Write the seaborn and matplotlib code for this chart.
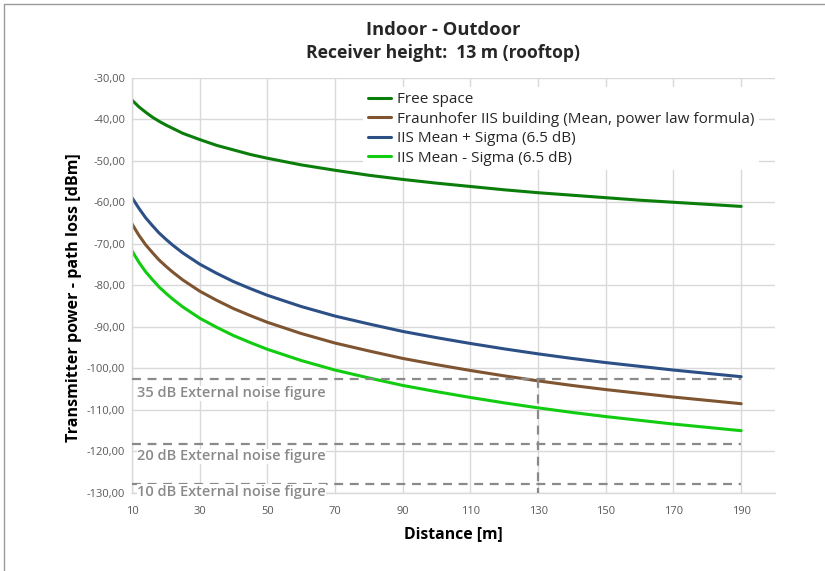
import matplotlib
matplotlib.use("Agg")
import matplotlib.pyplot as plt
import seaborn as sns
import pandas as pd
from matplotlib.lines import Line2D

# ---- data ----
distance = [10, 12, 14, 16, 18, 20, 22, 25, 30, 35, 40, 45, 50, 60, 70, 80, 90, 100, 110, 120, 130,
            140, 150, 160, 170, 180, 190]
free_space = [-35.4, -37.0, -38.3, -39.5, -40.5, -41.4, -42.2, -43.4, -44.9, -46.3, -47.4, -48.5, -49.4,
              -51.0, -52.3, -53.5, -54.5, -55.4, -56.2, -57.0, -57.7, -58.3, -58.9, -59.5, -60.0, -60.5, -61.0]
iis_mean = [-65.2, -67.9, -70.2, -72.1, -73.9, -75.4, -76.8, -78.7, -81.4, -83.6, -85.6, -87.3, -88.9,
            -91.6, -93.9, -95.8, -97.6, -99.1, -100.5, -101.8, -103.0, -104.1, -105.1, -106.0, -106.9,
            -107.7, -108.5]
iis_plus = [-58.9, -61.4, -63.7, -65.6, -67.4, -68.9, -70.3, -72.2, -74.9, -77.1, -79.1, -80.8, -82.4,
            -85.1, -87.4, -89.3, -91.1, -92.6, -94.0, -95.3, -96.5, -97.6, -98.6, -99.5, -100.4,
            -101.2, -102.0]
iis_minus = [-71.7, -74.4, -76.7, -78.6, -80.4, -81.9, -83.3, -85.2, -87.9, -90.1, -92.1, -93.8, -95.4,
             -98.1, -100.4, -102.3, -104.1, -105.6, -107.0, -108.3, -109.5, -110.6, -111.6, -112.5,
             -113.4, -114.2, -115.0]
series_names = ["Free space", "Fraunhofer IIS building (Mean, power law formula)",
                "IIS Mean + Sigma (6.5 dB)", "IIS Mean - Sigma (6.5 dB)"]
noise_levels = [-102.6, -118.2, -127.8]
noise_labels = ["35 dB External noise figure", "20 dB External noise figure", "10 dB External noise figure"]
noise_label_y = [-106.0, -121.2, -129.7]
noise_x = [10, 190]
marker_distance = 130
x_ticks = [10, 30, 50, 70, 90, 110, 130, 150, 170, 190]
y_ticks = [-30, -40, -50, -60, -70, -80, -90, -100, -110, -120, -130]

colors = ["#0b7d0b", "#7f5531", "#2c4f86", "#12cc12"]

sns.set_theme(style="white")
plt.rcParams['font.family'] = ['Open Sans', 'DejaVu Sans']

df = pd.DataFrame({"Distance": distance * 4,
                   "Value": free_space + iis_mean + iis_plus + iis_minus,
                   "Series": sum([[n] * len(distance) for n in series_names], [])})

fig = plt.figure(figsize=(8.25, 5.71), dpi=100)
ax = fig.add_axes([0.16, 0.1366, 0.7794, 0.7274])

sns.lineplot(data=df, x="Distance", y="Value", hue="Series", hue_order=series_names,
             palette=colors, linewidth=2.2, ax=ax, legend=False, sort=True)

# noise figure lines
for lvl, lab, ly in zip(noise_levels, noise_labels, noise_label_y):
    ax.plot(noise_x, [lvl, lvl], color="#8a8a8a", linestyle=(0, (4, 3)), linewidth=1.6, zorder=3)
    ax.text(11.5, ly, lab, color="#8a8a8a", fontsize=10.5, fontweight="semibold",
            va="center", ha="left", zorder=4,
            bbox=dict(facecolor="white", edgecolor="none", pad=0.3))
ax.plot([marker_distance, marker_distance], [noise_levels[0], -130], color="#8a8a8a",
        linestyle=(0, (4, 3)), linewidth=1.6, zorder=3)

ax.set_xlim(10, 200)
ax.set_ylim(-130, -30)
ax.set_xticks(x_ticks)
ax.set_yticks(y_ticks)
ax.set_yticklabels([f"{v:.2f}".replace(".", ",") for v in y_ticks])
ax.grid(True, color="#d9d9d9", linewidth=1.0)
ax.set_axisbelow(True)
for s in ["top", "right"]:
    ax.spines[s].set_visible(False)
for s in ["left", "bottom"]:
    ax.spines[s].set_color("#d9d9d9")
    ax.spines[s].set_linewidth(1.0)
ax.tick_params(axis="both", labelsize=8, colors="#595959", length=3, width=1, color="#d9d9d9")
ax.tick_params(axis="x", pad=6)
ax.tick_params(axis="y", pad=2)

ax.set_xlabel("Distance [m]", fontsize=11.3, fontweight="bold", color="black", labelpad=7)
ax.set_ylabel("")
fig.text(74 / 825, 1 - 298 / 571, "Transmitter power - path loss [dBm]", rotation=90,
         ha="center", va="center", fontsize=11.6, fontweight="bold", color="black")

handles = [Line2D([0], [0], color=c, linewidth=2.2) for c in colors]
leg = ax.legend(handles, series_names, loc="upper left", bbox_to_anchor=(0.348, 0.995), frameon=True,
                fontsize=11, handlelength=1.5, handletextpad=0.4, labelspacing=0.3,
                borderpad=0.3, facecolor="white", edgecolor="none", framealpha=1, fancybox=False)

fig.text(0.537, 0.947, "Indoor - Outdoor", ha="center", va="center", fontsize=13.2, fontweight="bold")
fig.text(0.537, 0.908, "Receiver height:  13 m (rooftop)", ha="center", va="center", fontsize=12.6, fontweight="bold")

# frame lines at top and left like the reference screenshot
fig.add_artist(Line2D([0.005, 1.0], [0.993, 0.993], color="#9a9a9a", linewidth=1.0, transform=fig.transFigure))
fig.add_artist(Line2D([0.005, 0.005], [0.0, 0.993], color="#9a9a9a", linewidth=1.0, transform=fig.transFigure))

fig.savefig("out.png", dpi=100)
